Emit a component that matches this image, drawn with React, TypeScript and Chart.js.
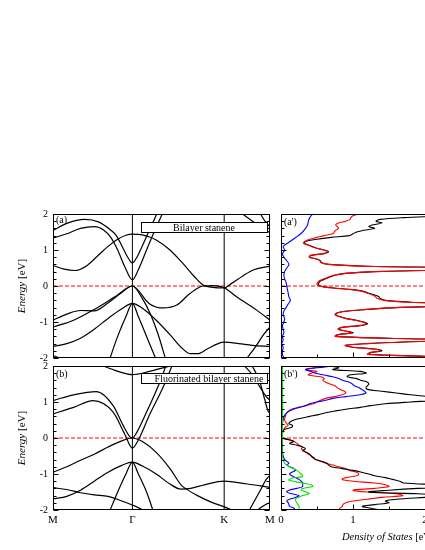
import React, { useEffect, useRef } from "react";
import { Chart, registerables } from "chart.js";

Chart.register(...registerables);
Chart.defaults.font.family = "'Liberation Serif', 'DejaVu Serif', serif";
Chart.defaults.color = "#000";

// ---------- k-path ----------
const kPointPositions = [0, 0.577, 1.244, 1.577];
const kPointLabels = ["M", "\u0393", "K", "M"];
const energyTicks = [-2, -1, 0, 1, 2];
const dosTicks = [0, 1, 2, 3];

// ---------- (a) Bilayer stanene bands: [k, E] ----------
const bandA1 = [[0,1.54],[0.1,1.74],[0.23,1.85],[0.33,1.78],[0.42,1.55],[0.46,1.4],[0.5,1.12],[0.54,0.82],[0.577,0.64],[0.61,0.8],[0.65,1.12],[0.7,1.55],[0.76,2.05]];
const bandA2 = [[0,1.33],[0.1,1.45],[0.2,1.6],[0.3,1.65],[0.37,1.55],[0.42,1.35],[0.47,1.0],[0.52,0.55],[0.577,0.17],[0.62,0.45],[0.68,1.0],[0.74,1.55],[0.8,2.05]];
const bandA3 = [[0,0.57],[0.08,0.47],[0.16,0.43],[0.24,0.55],[0.32,0.82],[0.4,1.1],[0.47,1.3],[0.53,1.41],[0.577,1.44],[0.65,1.42],[0.75,1.28],[0.85,1.0],[0.95,0.6],[1.03,0.25],[1.09,0.03],[1.15,-0.03],[1.2,-0.05],[1.244,-0.05],[1.3,0.08],[1.38,0.28],[1.46,0.45],[1.577,0.55]];
const bandA4 = [[0,-0.95],[0.1,-0.78],[0.2,-0.68],[0.3,-0.69],[0.4,-0.47],[0.5,-0.18],[0.577,0],[0.7,-0.49],[0.8,-0.61],[0.9,-0.53],[0.995,-0.21],[1.09,0],[1.16,0.01],[1.244,-0.05],[1.334,-0.3],[1.48,-0.67],[1.577,-0.95]];
const bandA5 = [[0,-1.14],[0.15,-0.95],[0.3,-0.65],[0.45,-0.3],[0.577,0],[0.65,-0.35],[0.71,-0.8],[0.76,-1.3],[0.82,-2.05]];
const bandA6 = [[0,-1.68],[0.1,-1.6],[0.2,-1.45],[0.3,-1.2],[0.4,-0.9],[0.5,-0.63],[0.577,-0.48],[0.65,-0.62],[0.75,-0.95],[0.85,-1.35],[0.93,-1.7],[1.0,-1.88],[1.05,-1.88],[1.12,-1.75],[1.2,-1.6],[1.244,-1.56],[1.35,-1.6],[1.45,-1.65],[1.577,-1.68]];
const bandA7 = [[0.41,-2.05],[0.47,-1.4],[0.53,-0.85],[0.577,-0.48],[0.62,-0.85],[0.68,-1.4],[0.75,-2.05]];
const bandA8 = [[0,-1.93],[0.08,-2.05]];
const bandA9 = [[1.4,-2.05],[1.47,-1.7],[1.53,-1.35],[1.577,-1.14]];
const bandA10 = [[1.36,2.05],[1.45,1.8],[1.52,1.6],[1.577,1.48]];
const bandA11 = [[1.5,2.05],[1.55,1.75],[1.577,1.65]];
const bandsA = [bandA1, bandA2, bandA3, bandA4, bandA5, bandA6, bandA7, bandA8, bandA9, bandA10, bandA11];

// ---------- (b) Fluorinated bilayer stanene bands ----------
const bandB1 = [[0.33,2.05],[0.45,1.88],[0.577,1.76],[0.7,1.85],[0.9,2.05]];
const bandB2 = [[0,1.04],[0.15,1.2],[0.315,1.29],[0.437,0.9],[0.51,0.35],[0.558,0.04],[0.577,0],[0.6,0.1],[0.68,0.72],[0.776,1.55],[0.825,2.05]];
const bandB3 = [[0,0.67],[0.15,0.85],[0.29,1.04],[0.437,0.72],[0.52,0.12],[0.577,-0.28],[0.63,0.02],[0.7,0.63],[0.8,1.41],[0.87,2.05]];
const bandB4 = [[0,-0.95],[0.1,-0.8],[0.2,-0.62],[0.3,-0.45],[0.4,-0.25],[0.5,-0.08],[0.577,0],[0.65,-0.1],[0.75,-0.4],[0.85,-0.85],[0.93,-1.3],[0.97,-1.42],[1.05,-1.6],[1.15,-1.78],[1.25,-1.92],[1.33,-2.05]];
const bandB5 = [[0,-1.69],[0.1,-1.62],[0.2,-1.45],[0.3,-1.2],[0.4,-0.95],[0.5,-0.76],[0.577,-0.67],[0.65,-0.78],[0.75,-1.0],[0.85,-1.28],[0.93,-1.42],[1.0,-1.4],[1.1,-1.3],[1.244,-1.2],[1.4,-1.27],[1.577,-1.37]];
const bandB6 = [[0,-1.38],[0.1,-1.43],[0.2,-1.52],[0.3,-1.58],[0.4,-1.62],[0.5,-1.75],[0.6,-1.9],[0.68,-2.05]];
const bandB7 = [[0.41,-2.05],[0.47,-1.5],[0.53,-1.0],[0.577,-0.67],[0.62,-1.0],[0.68,-1.5],[0.73,-2.05]];
const bandB8 = [[1.38,2.05],[1.45,1.75],[1.51,1.38],[1.55,1.15],[1.577,1.05]];
const bandB9 = [[1.44,2.05],[1.5,1.6],[1.54,1.05],[1.56,0.78],[1.577,0.68]];
const bandB10 = [[1.42,-2.05],[1.5,-1.5],[1.55,-1.15],[1.577,-1.04]];
const bandB11 = [[1.47,-2.05],[1.53,-1.88],[1.577,-1.79]];
const bandsB = [bandB1, bandB2, bandB3, bandB4, bandB5, bandB6, bandB7, bandB8, bandB9, bandB10, bandB11];

// ---------- (a') DOS: [E, DOS] ----------
const dosATotal = [[2.0,2.6],[1.95,2.3],[1.9,1.7],[1.85,1.38],[1.8,1.32],[1.75,1.4],[1.7,1.28],[1.65,1.22],[1.6,1.3],[1.55,1.15],[1.5,1.05],[1.45,1.0],[1.4,0.95],[1.35,0.7],[1.3,0.5],[1.25,0.36],[1.2,0.32],[1.15,0.36],[1.1,0.43],[1.05,0.5],[1.0,0.6],[0.95,0.66],[0.9,0.6],[0.85,0.42],[0.8,0.4],[0.75,0.5],[0.7,0.55],[0.65,0.56],[0.6,0.66],[0.55,1.2],[0.5,2.6],[0.45,2.4],[0.4,1.3],[0.35,0.9],[0.3,0.75],[0.25,0.68],[0.2,0.62],[0.15,0.56],[0.1,0.53],[0.05,0.52],[0.0,0.54],[-0.05,0.7],[-0.1,1.0],[-0.15,1.15],[-0.2,1.22],[-0.25,1.3],[-0.3,1.36],[-0.35,1.38],[-0.4,1.45],[-0.45,1.8],[-0.5,2.5],[-0.55,2.4],[-0.6,1.6],[-0.65,1.2],[-0.7,0.9],[-0.75,0.78],[-0.8,0.76],[-0.85,0.82],[-0.9,0.9],[-0.95,1.05],[-1.0,1.15],[-1.05,1.2],[-1.1,1.1],[-1.15,0.85],[-1.2,0.8],[-1.25,0.9],[-1.3,1.0],[-1.35,0.8],[-1.4,0.76],[-1.45,1.5],[-1.5,2.6],[-1.55,1.8],[-1.6,1.2],[-1.65,0.9],[-1.7,1.0],[-1.75,1.3],[-1.8,1.4],[-1.85,1.25],[-1.9,1.22],[-1.95,2.0],[-2.0,2.6]];
const dosASn = [[2.0,1.08],[1.95,1.0],[1.9,0.97],[1.85,0.96],[1.8,0.9],[1.75,0.8],[1.7,0.76],[1.65,0.78],[1.6,0.8],[1.55,0.76],[1.5,0.74],[1.45,0.72],[1.4,0.6],[1.35,0.5],[1.3,0.4],[1.25,0.34],[1.2,0.31],[1.15,0.35],[1.1,0.42],[1.05,0.49],[1.0,0.59],[0.95,0.64],[0.9,0.58],[0.85,0.41],[0.8,0.39],[0.75,0.49],[0.7,0.54],[0.65,0.55],[0.6,0.65],[0.55,1.18],[0.5,2.55],[0.45,2.35],[0.4,1.28],[0.35,0.88],[0.3,0.73],[0.25,0.66],[0.2,0.6],[0.15,0.54],[0.1,0.51],[0.05,0.5],[0.0,0.53],[-0.05,0.69],[-0.1,0.98],[-0.15,1.13],[-0.2,1.2],[-0.25,1.27],[-0.3,1.31],[-0.35,1.34],[-0.4,1.43],[-0.45,1.78],[-0.5,2.48],[-0.55,2.38],[-0.6,1.58],[-0.65,1.18],[-0.7,0.88],[-0.75,0.77],[-0.8,0.75],[-0.85,0.81],[-0.9,0.89],[-0.95,1.03],[-1.0,1.13],[-1.05,1.18],[-1.1,1.08],[-1.15,0.84],[-1.2,0.79],[-1.25,0.89],[-1.3,0.98],[-1.35,0.79],[-1.4,0.75],[-1.45,1.48],[-1.5,2.55],[-1.55,1.78],[-1.6,1.18],[-1.65,0.89],[-1.7,0.98],[-1.75,1.28],[-1.8,1.38],[-1.85,1.23],[-1.9,1.2],[-1.95,1.97],[-2.0,2.55]];
const dosAF = [[2.0,0.44],[1.9,0.4],[1.8,0.38],[1.7,0.37],[1.6,0.34],[1.5,0.3],[1.4,0.24],[1.3,0.17],[1.2,0.1],[1.1,0.03],[1.0,0.05],[0.9,0.02],[0.8,0.04],[0.7,0.08],[0.6,0.11],[0.5,0.08],[0.4,0.05],[0.3,0.04],[0.2,0.05],[0.1,0.07],[0.0,0.08],[-0.1,0.09],[-0.2,0.1],[-0.3,0.11],[-0.4,0.13],[-0.5,0.1],[-0.6,0.07],[-0.7,0.04],[-0.8,0.03],[-0.9,0.05],[-1.0,0.04],[-1.1,0.02],[-1.2,0.03],[-1.3,0.04],[-1.4,0.02],[-1.5,0.03],[-1.6,0.01],[-1.7,0.03],[-1.8,0.02],[-1.9,0.02],[-2.0,0.04]];

// ---------- (b') DOS ----------
const dosBTotal = [[2.0,0.69],[1.95,0.8],[1.9,0.72],[1.85,1.1],[1.8,1.18],[1.75,0.95],[1.7,0.92],[1.65,1.05],[1.6,1.12],[1.55,1.2],[1.5,1.22],[1.45,1.2],[1.4,1.18],[1.35,1.2],[1.3,1.4],[1.25,1.6],[1.2,1.8],[1.15,2.05],[1.1,2.3],[1.05,2.2],[1.0,1.8],[0.95,1.45],[0.9,1.25],[0.85,1.1],[0.8,0.9],[0.75,0.75],[0.7,0.62],[0.65,0.52],[0.6,0.4],[0.55,0.28],[0.5,0.18],[0.45,0.13],[0.4,0.11],[0.35,0.16],[0.3,0.15],[0.25,0.06],[0.2,0.03],[0.15,0.02],[0.1,0.01],[0.05,0.01],[0.0,0.02],[-0.05,0.12],[-0.1,0.18],[-0.15,0.12],[-0.2,0.22],[-0.25,0.3],[-0.3,0.34],[-0.35,0.3],[-0.4,0.36],[-0.45,0.4],[-0.5,0.42],[-0.55,0.46],[-0.6,0.48],[-0.65,0.58],[-0.7,0.64],[-0.75,0.66],[-0.8,0.7],[-0.85,0.85],[-0.9,1.0],[-0.95,1.12],[-1.0,1.22],[-1.05,1.3],[-1.1,1.45],[-1.15,1.55],[-1.2,1.65],[-1.25,1.7],[-1.3,2.2],[-1.35,2.5],[-1.4,1.9],[-1.45,1.5],[-1.5,1.22],[-1.55,1.9],[-1.6,2.4],[-1.65,2.0],[-1.7,1.6],[-1.75,1.45],[-1.8,1.5],[-1.85,1.3],[-1.9,1.13],[-1.95,1.25],[-2.0,1.36]];
const dosBSn = [[2.0,0.69],[1.95,0.45],[1.9,0.34],[1.85,0.5],[1.8,0.42],[1.75,0.38],[1.7,0.55],[1.65,0.6],[1.6,0.58],[1.55,0.62],[1.5,0.68],[1.45,0.75],[1.4,0.78],[1.35,0.82],[1.3,0.88],[1.25,0.9],[1.2,0.85],[1.15,0.75],[1.1,0.62],[1.05,0.55],[1.0,0.5],[0.95,0.45],[0.9,0.35],[0.85,0.25],[0.8,0.18],[0.75,0.12],[0.7,0.08],[0.6,0.06],[0.5,0.05],[0.4,0.08],[0.35,0.1],[0.3,0.06],[0.2,0.03],[0.1,0.02],[0.0,0.02],[-0.05,0.1],[-0.1,0.18],[-0.15,0.22],[-0.2,0.25],[-0.25,0.3],[-0.3,0.28],[-0.35,0.32],[-0.4,0.35],[-0.45,0.38],[-0.5,0.42],[-0.55,0.44],[-0.6,0.48],[-0.65,0.55],[-0.7,0.62],[-0.75,0.72],[-0.8,0.8],[-0.85,0.9],[-0.9,0.95],[-0.95,1.05],[-1.0,1.08],[-1.05,1.05],[-1.1,0.9],[-1.15,0.85],[-1.2,1.0],[-1.25,1.3],[-1.3,1.45],[-1.35,1.5],[-1.4,1.3],[-1.45,1.0],[-1.5,1.2],[-1.55,1.6],[-1.6,1.69],[-1.65,1.4],[-1.7,1.2],[-1.75,1.0],[-1.8,0.9],[-1.85,0.86],[-1.9,0.85],[-1.95,0.82],[-2.0,0.8]];
const dosBSnInner = [[2.0,0.71],[1.95,0.5],[1.9,0.34],[1.85,0.42],[1.8,0.48],[1.75,0.6],[1.7,0.72],[1.65,0.8],[1.6,0.86],[1.55,0.95],[1.5,0.99],[1.45,1.02],[1.4,1.08],[1.35,1.12],[1.3,1.16],[1.25,1.18],[1.2,1.1],[1.15,0.9],[1.1,0.72],[1.05,0.62],[1.0,0.5],[0.95,0.4],[0.9,0.34],[0.85,0.25],[0.8,0.15],[0.75,0.11],[0.7,0.08],[0.6,0.04],[0.5,0.03],[0.4,0.02],[0.2,0.02],[0.0,0.02],[-0.2,0.02],[-0.4,0.02],[-0.5,0.03],[-0.6,0.05],[-0.65,0.08],[-0.7,0.11],[-0.75,0.08],[-0.8,0.12],[-0.85,0.18],[-0.9,0.2],[-0.95,0.15],[-1.0,0.12],[-1.05,0.15],[-1.1,0.2],[-1.15,0.25],[-1.2,0.28],[-1.25,0.3],[-1.3,0.3],[-1.35,0.3],[-1.4,0.22],[-1.45,0.11],[-1.5,0.08],[-1.55,0.15],[-1.6,0.25],[-1.65,0.2],[-1.7,0.12],[-1.75,0.08],[-1.8,0.1],[-1.85,0.11],[-1.9,0.12],[-1.95,0.18],[-2.0,0.2]];
const dosBF = [[2.0,0.02],[1.5,0.02],[1.0,0.02],[0.5,0.02],[0.0,0.02],[-0.5,0.02],[-0.7,0.05],[-0.8,0.12],[-0.9,0.22],[-1.0,0.28],[-1.07,0.3],[-1.12,0.15],[-1.17,0.11],[-1.25,0.3],[-1.3,0.42],[-1.35,0.44],[-1.4,0.3],[-1.45,0.28],[-1.5,0.35],[-1.55,0.39],[-1.6,0.3],[-1.7,0.2],[-1.8,0.22],[-1.9,0.25],[-2.0,0.25]];

const FONT = "'Liberation Serif', 'DejaVu Serif', serif";

const decorPlugin = {
  id: "decor",
  afterDatasetsDraw(chart: any, _args: any, o: any) {
    const { ctx, chartArea: a, scales } = chart;
    ctx.save();
    ctx.strokeStyle = "#000";
    ctx.lineWidth = 1;
    const L = Math.round(a.left) + 0.5, R = Math.round(a.right) - 0.5;
    const T = Math.round(a.top) + 0.5, B = Math.round(a.bottom) - 0.5;
    ctx.strokeRect(L, T, R - L, B - T);
    const ys = scales.y;
    ctx.beginPath();
    for (let i = 0; i <= 20; i++) {
      const py = Math.round(ys.getPixelForValue(-2 + i * 0.2)) + 0.5;
      const len = i % 5 === 0 ? 5 : 3;
      ctx.moveTo(L, py); ctx.lineTo(L + len, py);
      if (o.rightTicks) { ctx.moveTo(R, py); ctx.lineTo(R - len, py); }
    }
    if (o.bottomTicks) {
      const xs = scales.x;
      for (let i = 1; i <= 6; i++) {
        const px = Math.round(xs.getPixelForValue(i * 0.5)) + 0.5;
        const len = i % 2 === 0 ? 5 : 3;
        ctx.moveTo(px, B); ctx.lineTo(px, B - len);
      }
    }
    ctx.stroke();
    ctx.fillStyle = "#000";
    ctx.textBaseline = "middle";
    ctx.textAlign = "left";
    ctx.font = `10px ${FONT}`;
    ctx.fillText(o.label, a.left + 3, a.top + o.labelDy);
    if (o.boxText) {
      const bx = o.box;
      ctx.fillStyle = "#fff";
      ctx.fillRect(bx[0], bx[1], bx[2] - bx[0], bx[3] - bx[1]);
      ctx.strokeRect(bx[0] + 0.5, bx[1] + 0.5, bx[2] - bx[0] - 1, bx[3] - bx[1] - 1);
      ctx.fillStyle = "#000";
      ctx.textAlign = "center";
      ctx.fillText(o.boxText, o.boxTextX, (bx[1] + bx[3]) / 2 + 0.5);
    }
    if (o.yTitle) {
      ctx.save();
      ctx.translate(o.yTitleX, (a.top + a.bottom) / 2);
      ctx.rotate(-Math.PI / 2);
      ctx.textAlign = "left";
      ctx.font = `italic 11px ${FONT}`;
      const w1 = ctx.measureText("Energy ").width;
      ctx.font = `11px ${FONT}`;
      const w2 = ctx.measureText("[eV]").width;
      const x0 = -(w1 + w2) / 2;
      ctx.font = `italic 11px ${FONT}`;
      ctx.fillText("Energy ", x0, 0);
      ctx.font = `11px ${FONT}`;
      ctx.fillText("[eV]", x0 + w1, 0);
      ctx.restore();
    }
    if (o.xTitle) {
      ctx.textAlign = "left";
      ctx.font = `italic 10.5px ${FONT}`;
      const w1 = ctx.measureText("Density of States ").width;
      const x0 = o.xTitleX;
      ctx.fillText("Density of States ", x0, o.xTitleY);
      ctx.font = `10.5px ${FONT}`;
      ctx.fillText("[eV\u207B\u00B9]", x0 + w1, o.xTitleY);
    }
    ctx.restore();
  },
};

function lineDs(points: number[][], color: string, swap: boolean, width = 1.1, extra: any = {}) {
  return {
    data: points.map((p) => (swap ? { x: p[1], y: p[0] } : { x: p[0], y: p[1] })),
    borderColor: color,
    borderWidth: width,
    pointRadius: 0,
    showLine: true,
    fill: false,
    ...extra,
  };
}

type PanelSpec = {
  left: number; top: number; width: number; height: number;
  kind: "band" | "dos";
  showX: boolean;
  datasets: any[];
  decor: any;
  areaTop: number; areaBottom: number; areaLeft: number; areaRight: number;
};

function Panel({ spec }: { spec: PanelSpec }) {
  const ref = useRef<HTMLCanvasElement | null>(null);
  useEffect(() => {
    const s = spec;
    const isBand = s.kind === "band";
    const yAxisW = isBand ? s.areaLeft - s.left : 0;
    const xAxisH = s.showX ? s.top + s.height - s.areaBottom : 0;
    const chart = new Chart(ref.current as HTMLCanvasElement, {
      type: "scatter",
      data: { datasets: s.datasets },
      plugins: [decorPlugin],
      options: {
        responsive: false,
        animation: false,
        devicePixelRatio: 1,
        layout: {
          padding: {
            left: isBand ? 0 : s.areaLeft - s.left,
            right: s.left + s.width - s.areaRight,
            top: s.areaTop - s.top,
            bottom: s.showX ? 0 : s.top + s.height - s.areaBottom,
          },
        },
        plugins: { legend: { display: false }, tooltip: { enabled: false }, decor: s.decor } as any,
        scales: {
          x: {
            type: "linear",
            min: isBand ? kPointPositions[0] : dosTicks[0],
            max: isBand ? kPointPositions[kPointPositions.length - 1] : dosTicks[dosTicks.length - 1],
            display: s.showX,
            afterFit: (sc: any) => { sc.height = xAxisH; },
            afterBuildTicks: (sc: any) => {
              sc.ticks = (isBand ? kPointPositions : dosTicks).map((v) => ({ value: v }));
            },
            ticks: {
              autoSkip: false,
              maxRotation: 0,
              padding: 4,
              font: { size: 11, family: FONT },
              color: "#000",
              callback: (v: any) => {
                if (isBand) {
                  const i = kPointPositions.indexOf(v);
                  return i >= 0 ? kPointLabels[i] : "";
                }
                return String(v);
              },
            },
            grid: { display: false, drawTicks: false },
            border: { display: false },
          },
          y: {
            type: "linear",
            min: energyTicks[0],
            max: energyTicks[energyTicks.length - 1],
            display: isBand,
            afterFit: (sc: any) => { sc.width = yAxisW; },
            afterBuildTicks: (sc: any) => { sc.ticks = energyTicks.map((v) => ({ value: v })); },
            ticks: { padding: 5, font: { size: 10, family: FONT }, color: "#000", callback: (v: any) => String(v) },
            grid: { display: false, drawTicks: false },
            border: { display: false },
          },
        },
      } as any,
    });
    return () => chart.destroy();
  }, []);
  return (
    <canvas
      ref={ref}
      width={spec.width}
      height={spec.height}
      style={{ position: "absolute", left: spec.left, top: spec.top, width: spec.width, height: spec.height }}
    />
  );
}

function bandDatasets(bands: number[][][]) {
  const ds: any[] = [];
  ds.push(lineDs([[kPointPositions[1], -2], [kPointPositions[1], 2]], "#000", false, 1));
  ds.push(lineDs([[kPointPositions[2], -2], [kPointPositions[2], 2]], "#000", false, 1));
  bands.forEach((b) => ds.push(lineDs(b, "#000", false, 1.2, { cubicInterpolationMode: "monotone" })));
  ds.push(lineDs([[kPointPositions[0], 0], [kPointPositions[3], 0]], "#ff0000", false, 1, { borderDash: [4, 2] }));
  return ds;
}

function dosDatasets(curves: [number[][], string][]) {
  const ds: any[] = curves.map(([c, col]) => lineDs(c, col, true, 1.1, { tension: 0.35 }));
  ds.push(lineDs([[0, dosTicks[0]], [0, dosTicks[dosTicks.length - 1]]], "#ff0000", true, 1, { borderDash: [4, 2] }));
  return ds;
}

const panels: PanelSpec[] = [
  {
    left: 0, top: 200, width: 280, height: 170, kind: "band", showX: false,
    areaLeft: 53, areaRight: 270, areaTop: 214, areaBottom: 358,
    datasets: bandDatasets(bandsA),
    decor: { label: "(a)", labelDy: 6, rightTicks: true, boxText: "Bilayer stanene", box: [141, 22, 268, 33], boxTextX: 204, yTitle: true, yTitleX: 22 },
  },
  {
    left: 0, top: 352, width: 280, height: 198, kind: "band", showX: true,
    areaLeft: 53, areaRight: 270, areaTop: 366, areaBottom: 510,
    datasets: bandDatasets(bandsB),
    decor: { label: "(b)", labelDy: 8, rightTicks: true, boxText: "Fluorinated bilayer stanene", box: [141, 21, 268, 32], boxTextX: 209, yTitle: true, yTitleX: 22 },
  },
  {
    left: 270, top: 200, width: 240, height: 170, kind: "dos", showX: false,
    areaLeft: 281, areaRight: 497, areaTop: 214, areaBottom: 358,
    datasets: dosDatasets([[dosAF, "#0000ff"], [dosASn, "#ff0000"], [dosATotal, "#000000"]]),
    decor: { label: "(a')", labelDy: 8, bottomTicks: true },
  },
  {
    left: 270, top: 352, width: 240, height: 198, kind: "dos", showX: true,
    areaLeft: 281, areaRight: 497, areaTop: 366, areaBottom: 510,
    datasets: dosDatasets([[dosBF, "#00dd00"], [dosBSnInner, "#0000ff"], [dosBTotal, "#000000"], [dosBSn, "#ff0000"]]),
    decor: { label: "(b')", labelDy: 8, bottomTicks: true, xTitle: true, xTitleX: 72, xTitleY: 185 },
  },
];

export default function App() {
  return (
    <div style={{ position: "fixed", left: 0, top: 0, width: 425, height: 550, overflow: "hidden", background: "#fff" }}>
      {panels.map((p, i) => (
        <Panel key={i} spec={p} />
      ))}
    </div>
  );
}
